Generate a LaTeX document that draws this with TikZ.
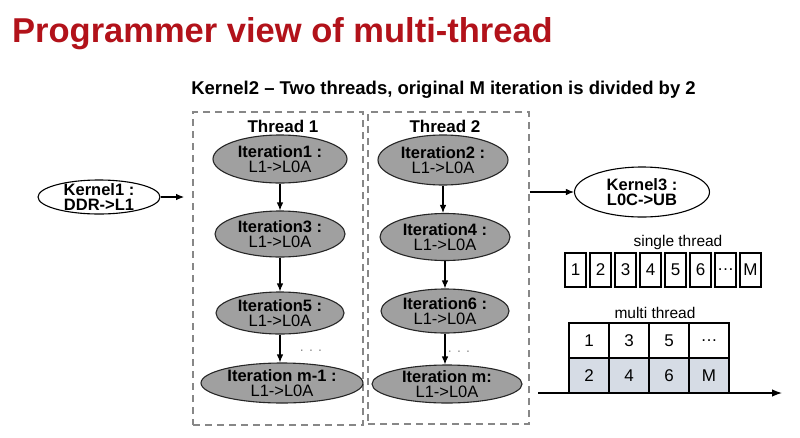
\documentclass[tikz,border=0pt]{standalone}
\usepackage{fontspec}
\setmainfont{Liberation Sans}
\usetikzlibrary{shapes.geometric,arrows.meta}
\definecolor{titlered}{RGB}{178,18,26}
\definecolor{ellgray}{RGB}{160,160,160}
\definecolor{dashgray}{RGB}{135,135,135}
\definecolor{cellblue}{RGB}{214,220,229}
\begin{document}
\begin{tikzpicture}[x=1pt,y=-1pt,
  iter/.style={ellipse, draw=black!85, line width=1.1pt, fill=ellgray, inner sep=0pt},
  kern/.style={ellipse, draw=black, line width=1.1pt, fill=white, inner sep=0pt},
  txt/.style={align=center, inner sep=0pt, font=\fontsize{16.5}{15.5}\selectfont},
  btxt/.style={align=center, inner sep=0pt, font=\fontsize{16.5}{15.5}\selectfont\bfseries},
  thr/.style={draw=dashgray, line width=1.8pt, dash pattern=on 7pt off 5pt, inner sep=0pt},
  thrlab/.style={font=\fontsize{17}{17}\selectfont\bfseries, inner sep=0pt},
  flow/.style={-{Latex[length=8pt,width=6.5pt]}, line width=1.1pt},
  cell/.style={draw=black, line width=1.3pt, inner sep=0pt, font=\fontsize{17}{17}\selectfont},
  captxt/.style={font=\fontsize{15.5}{15.5}\selectfont, inner sep=0pt},
  dots/.style={text=black!45, font=\fontsize{14}{14}\selectfont, inner sep=0pt},
]
\useasboundingbox (0,0) rectangle (800,437);
\fill[white] (0,0) rectangle (800,437);

% titles
\node[anchor=base west, inner sep=0pt, text=titlered, font=\fontsize{34.5}{36}\selectfont\bfseries] (title) at (12,42) {Programmer view of multi-thread};
\node[anchor=base, inner sep=0pt, font=\fontsize{18.5}{20}\selectfont\bfseries] (sub) at (443.5,94) {Kernel2 \textendash{} Two threads, original M iteration is divided by 2};

% thread boxes
\node[thr, minimum width=170pt, minimum height=313pt] (t1) at (278,268.5) {};
\node[thr, minimum width=161pt, minimum height=312pt] (t2) at (448.5,268) {};
\node[thrlab] (t1lab) at (283,126.5) {Thread 1};
\node[thrlab] (t2lab) at (445,126.5) {Thread 2};

% kernels
\node[kern, minimum width=122pt, minimum height=34pt,
  label={[btxt]center:{Kernel1 :\\DDR->L1}}] (k1) at (99,197) {};
\node[kern, minimum width=135pt, minimum height=50pt,
  label={[btxt]center:{Kernel3 :\\L0C->UB}}] (k3) at (642,192) {};

% thread 1 iterations
\node[iter, minimum width=134pt, minimum height=48pt,
  label={[txt]center:{\textbf{Iteration1 :}\\L1->L0A}}] (it1) at (280,159) {};
\node[iter, minimum width=130pt, minimum height=46pt,
  label={[txt]center:{\textbf{Iteration3 :}\\L1->L0A}}] (it3) at (280,234) {};
\node[iter, minimum width=128pt, minimum height=42pt,
  label={[txt]center:{\textbf{Iteration5 :}\\L1->L0A}}] (it5) at (280,313) {};
\node[iter, minimum width=162pt, minimum height=40pt,
  label={[txt]center:{\textbf{Iteration m-1 :}\\L1->L0A}}] (itm1) at (282,383) {};

% thread 2 iterations
\node[iter, minimum width=130pt, minimum height=50pt,
  label={[txt]center:{\textbf{Iteration2 :}\\L1->L0A}}] (it2) at (443,160) {};
\node[iter, minimum width=130pt, minimum height=47pt,
  label={[txt]center:{\textbf{Iteration4 :}\\L1->L0A}}] (it4) at (445,237) {};
\node[iter, minimum width=128pt, minimum height=44pt,
  label={[txt]center:{\textbf{Iteration6 :}\\L1->L0A}}] (it6) at (445,311) {};
\node[iter, minimum width=150pt, minimum height=38pt,
  label={[txt]center:{\textbf{Iteration m:}\\L1->L0A}}] (itm) at (447,384) {};

% dots
\node[dots] (d1) at (311,351) {. . .};
\node[dots] (d2) at (459,352) {. . .};

% connectors
\draw[flow] (it1.south) -- (it3.north);
\draw[flow] (it3.south) -- (it5.north);
\draw[flow] (it5.south) -- (it5.south |- itm1.north);
\draw[flow] (it2.south) -- (it2.south |- it4.north);
\draw[flow] (it4.south) -- (it6.north);
\draw[flow] (it6.south) -- (it6.south |- itm.north);
\draw[flow, shorten >=8pt] (k1.east) -- (t1.west |- k1.east);
\draw[flow] (t2.east |- k3.west) -- (k3.west);

% single thread
\node[captxt] (stlab) at (678,242) {single thread};
\foreach \i/\t in {0/1,1/2,2/3,3/4,4/5,5/6,6/\textellipsis,7/M}{
  \node[cell, minimum width=21pt, minimum height=34pt] (s\i) at (575.5+25*\i,270) {\t};
}

% multi thread
\node[captxt] (mtlab) at (655,313) {multi thread};
\foreach \i/\t in {0/1,1/3,2/5,3/\textellipsis}{
  \node[cell, minimum width=40pt, minimum height=35pt] (mt\i) at (589+40*\i,340.5) {\t};
}
\foreach \i/\t in {0/2,1/4,2/6,3/M}{
  \node[cell, fill=cellblue, minimum width=40pt, minimum height=35pt] (mb\i) at (589+40*\i,375.5) {\t};
}
\coordinate (ax0) at (538,393);
\coordinate (ax1) at (782,393);
\draw[-{Latex[length=10pt,width=7.5pt]}, line width=1.3pt] (ax0) -- (ax1);
\end{tikzpicture}
\end{document}
